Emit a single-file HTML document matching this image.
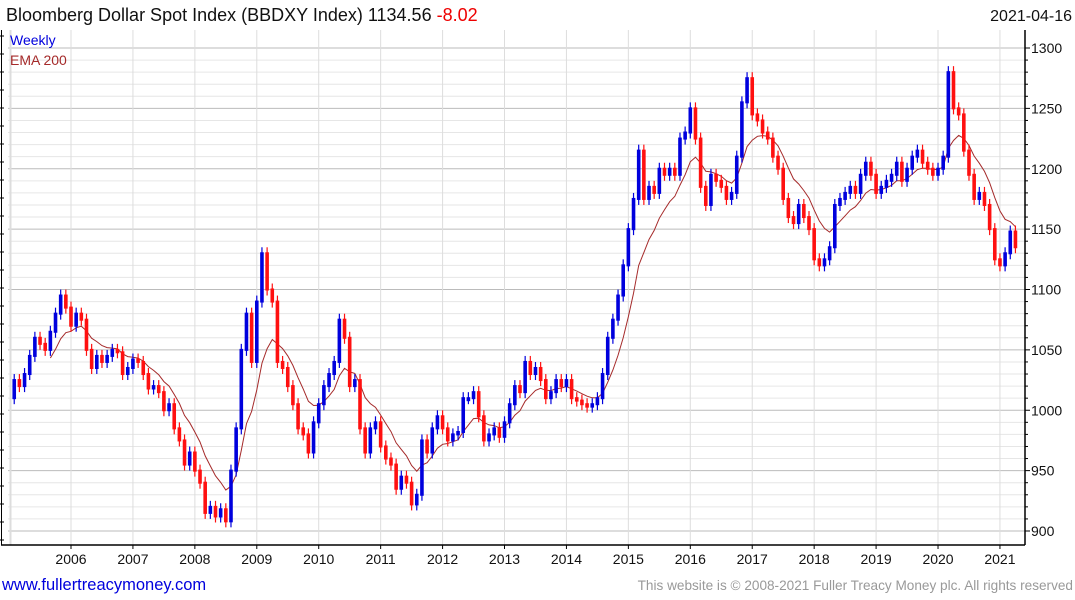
<!DOCTYPE html>
<html><head><meta charset="utf-8"><style>
body{margin:0;background:#fff;width:1075px;height:600px;overflow:hidden;font-family:"Liberation Sans",sans-serif}
svg{display:block}
</style></head><body>
<svg id="chart" width="1075" height="600">
<text x="6" y="21" font-size="18" fill="#111">Bloomberg Dollar Spot Index (BBDXY Index) 1134.56 <tspan fill="#e00">-8.02</tspan></text>
<text x="1072" y="21" font-size="16" fill="#111" text-anchor="end">2021-04-16</text>
<g id="grid"></g><g id="ema"></g><g id="bars"></g><g id="axes"></g>
<text x="10" y="45" font-size="14" fill="#0000dd">Weekly</text>
<text x="10" y="65" font-size="14" fill="#a52a2a">EMA 200</text>
<text x="2" y="590" font-size="16.5" fill="#0000dd">www.fullertreacymoney.com</text>
<text x="1073" y="590" font-size="13.6" fill="#999" text-anchor="end">This website is © 2008-2021 Fuller Treacy Money plc. All rights reserved</text>
</svg>
<script>
const startYear = 2005;
const closes = [
1010,1025,1020,1030,1045,1060,1055,1050,1065,1080,1095,1085,
1070,1080,1075,1050,1035,1045,1040,1045,1050,1048,1030,1035,
1042,1040,1030,1018,1020,1015,1000,1005,985,975,955,965,
950,940,915,920,912,918,908,950,985,1050,1080,1040,
1090,1130,1100,1090,1040,1035,1020,1005,985,980,965,990,
1005,1020,1030,1040,1075,1060,1020,1025,985,965,985,990,
970,960,955,935,945,940,922,930,975,965,985,995,
985,975,980,982,1010,1010,1015,995,975,980,985,978,
990,1005,1020,1015,1040,1030,1035,1025,1010,1015,1025,1020,
1025,1010,1008,1005,1003,1005,1010,1030,1060,1075,1095,1120,
1150,1175,1215,1175,1185,1180,1200,1195,1200,1195,1225,1230,
1250,1225,1185,1170,1195,1190,1185,1175,1180,1210,1255,1275,
1245,1240,1230,1225,1210,1200,1175,1160,1155,1170,1160,1150,
1125,1120,1125,1135,1170,1175,1180,1185,1180,1195,1205,1195,
1180,1185,1190,1195,1205,1190,1200,1210,1215,1205,1200,1195,
1200,1210,1280,1250,1245,1215,1195,1175,1180,1170,1150,1125,
1120,1130,1148,1135];
const yTicks = [900,950,1000,1050,1100,1150,1200,1250,1300];
const xTicks = [2006,2007,2008,2009,2010,2011,2012,2013,2014,2015,2016,2017,2018,2019,2020,2021];
const emaPeriod = 9.2;

const X0=8, X1=1025, Y0=30, Y1=545;
const xs = t => 71 + (t-2006)*61.93;
const ys = v => 531 - (v-900)*1.2075;
const NS='http://www.w3.org/2000/svg';
function mk(tag, attrs, parent){const e=document.createElementNS(NS,tag);for(const k in attrs)e.setAttribute(k,attrs[k]);parent.appendChild(e);return e;}
const grid=document.getElementById('grid'), axes=document.getElementById('axes'), bars=document.getElementById('bars'), emaG=document.getElementById('ema');
for(let v=900; v<=1300; v+=10){
  const major = v%50===0;
  const l=mk('line',{x1:X0,x2:X1,y1:ys(v),y2:ys(v),stroke:major?'#bbb':'#e6e6e6','stroke-width':1},grid);
  
  
  const t=mk('line',{x1:X1,x2:X1+(major?5:3),y1:ys(v),y2:ys(v),stroke:'#000'},axes);
  
  
}
xTicks.forEach(yr=>{
  const l=mk('line',{x1:xs(yr),x2:xs(yr),y1:Y0,y2:Y1,stroke:'#ddd'},grid);
  
  
  const t=mk('line',{x1:xs(yr),x2:xs(yr),y1:Y1,y2:Y1+4,stroke:'#000'},axes);
  
  
  const tx=mk('text',{x:xs(yr),y:564,'font-size':14,'text-anchor':'middle',fill:'#111'},axes);
  tx.textContent=yr;
  
  
});
yTicks.forEach(v=>{
  const tx=mk('text',{x:X1+6,y:ys(v)+5,'font-size':14,fill:'#111'},axes);
  tx.textContent=v;
  
  
});
for(let y=Y0+6;y<Y1;y+=18){const t=mk('line',{x1:0,x2:4,y1:y,y2:y,stroke:'#000'},axes);}
let a=mk('line',{x1:1.5,x2:1.5,y1:Y0,y2:Y1,stroke:'#000'},axes);
a=mk('line',{x1:X1,x2:X1,y1:Y0,y2:Y1,stroke:'#000','stroke-width':1.5},axes);
a=mk('line',{x1:1,x2:X1,y1:Y1,y2:Y1,stroke:'#000','stroke-width':1.5},axes);
a=mk('line',{x1:10.5,x2:10.5,y1:Y0,y2:Y1,stroke:'#ddd','stroke-width':2},grid);

const alpha=2/(emaPeriod+1);
let e=closes[0]; const emaPts=[];
closes.forEach((c,i)=>{
  const t=startYear+i/12;
  if(i>0){
    const prev=closes[i-1];
    const up=c>=prev;
    const top=ys(Math.max(c,prev)), bot=ys(Math.min(c,prev));
    const col=up?'#0000dd':'#ff1010';
    const w=mk('line',{x1:xs(t),x2:xs(t),y1:top-6,y2:bot+6,stroke:col,'stroke-width':1.2},bars);
    
    
    const r=mk('rect',{x:xs(t)-1.8,y:top-1,width:3.6,height:Math.max(2,bot-top)+2,fill:col},bars);
    
    
  }
  e=alpha*c+(1-alpha)*e;
  if(i>=8) emaPts.push(xs(t).toFixed(1)+','+ys(e).toFixed(1));
});
const pl=mk('polyline',{points:emaPts.join(' '),fill:'none',stroke:'#a52a2a','stroke-width':1},emaG);


</script>
</body></html>
